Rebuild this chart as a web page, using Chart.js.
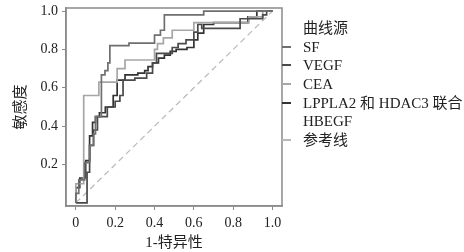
<!DOCTYPE html>
<html><head><meta charset="utf-8">
<script src="https://cdn.jsdelivr.net/npm/chart.js@4"></script>
<style>
html,body{margin:0;padding:0;background:#fff;}
#wrap{position:relative;width:464px;height:252px;}
#legend{position:absolute;left:0;top:0;width:464px;height:252px;pointer-events:none;
 font-family:"Liberation Serif","Noto Sans CJK SC",serif;font-size:15px;color:#222;}
.lt{position:absolute;left:303px;line-height:16px;white-space:nowrap;}
.lm{position:absolute;left:282px;width:9px;height:2px;}
</style></head>
<body><div id="wrap"><canvas id="c" width="464" height="252"></canvas><div id="legend"></div></div>
<script>
// ---- data (ROC corner points: 1-特异性 / 敏感度) ----
const seriesNames = ["SF", "VEGF", "CEA", "LPPLA2 和 HDAC3 联合 HBEGF"];
const xTicks = [0, 0.2, 0.4, 0.6, 0.8, 1.0];
const yTicks = [0.2, 0.4, 0.6, 0.8, 1.0];

const sfX = [0,0,0.015,0.015,0.045,0.045,0.07,0.07,0.09,0.09,0.1,0.1,0.13,0.13,0.148,0.148,0.163,0.163,0.173,0.173,0.27,0.27,0.4,0.4,0.43,0.43,0.45,0.45,0.65,0.65,1];
const sfY = [0,0.05,0.05,0.12,0.12,0.21,0.21,0.3,0.3,0.36,0.36,0.45,0.45,0.667,0.667,0.69,0.69,0.73,0.73,0.82,0.82,0.833,0.833,0.875,0.875,0.9,0.9,0.98,0.98,1,1];

const vegfX = [0,0.057,0.057,0.07,0.07,0.09,0.09,0.11,0.11,0.16,0.16,0.2,0.2,0.224,0.224,0.24,0.24,0.3,0.3,0.36,0.36,0.39,0.39,0.41,0.41,0.49,0.49,0.52,0.52,0.56,0.56,0.6,0.6,0.62,0.62,0.64,0.64,0.68,0.68,0.835,0.835,0.95,0.95,0.97,0.97,1];
const vegfY = [0,0,0.16,0.16,0.3,0.3,0.38,0.38,0.45,0.45,0.5,0.5,0.53,0.53,0.56,0.56,0.64,0.64,0.65,0.65,0.677,0.677,0.73,0.73,0.78,0.78,0.81,0.81,0.83,0.83,0.85,0.85,0.89,0.89,0.93,0.93,0.91,0.91,0.91,0.91,0.96,0.96,0.98,0.98,1,1];

const ceaX = [0,0,0.04,0.04,0.117,0.117,0.21,0.21,0.25,0.25,0.4,0.4,0.415,0.415,0.445,0.445,0.49,0.49,0.6,0.6,0.88,0.88,0.95,0.95,1];
const ceaY = [0,0.1,0.1,0.56,0.56,0.63,0.63,0.7,0.7,0.745,0.745,0.8,0.8,0.83,0.83,0.86,0.86,0.9,0.9,0.94,0.94,0.97,0.97,1,1];

const combX = [0,0,0.02,0.02,0.05,0.05,0.07,0.07,0.085,0.085,0.1,0.1,0.12,0.12,0.15,0.15,0.19,0.19,0.21,0.21,0.25,0.25,0.315,0.315,0.35,0.35,0.367,0.367,0.39,0.39,0.42,0.42,0.45,0.45,0.48,0.48,0.51,0.51,0.565,0.565,0.6,0.6,0.62,0.62,0.65,0.65,0.7,0.7,0.875,0.875,0.92,0.92,1];
const combY = [0,0.08,0.08,0.13,0.13,0.22,0.22,0.35,0.35,0.42,0.42,0.45,0.45,0.47,0.47,0.5,0.5,0.56,0.56,0.64,0.64,0.667,0.667,0.677,0.677,0.69,0.69,0.71,0.71,0.73,0.73,0.755,0.755,0.77,0.77,0.79,0.79,0.8,0.8,0.81,0.81,0.85,0.85,0.885,0.885,0.93,0.93,0.94,0.94,0.97,0.97,1,1];

const refX = [0, 1];
const refY = [0, 1];

const colors = ["#6f6f6f", "#4a4a4a", "#a6a6a6", "#333333"];
const refColor = "#b8b8b8";

function pts(xs, ys){ return xs.map((x,i)=>({x:x, y:ys[i]})); }

const FONT = '"Liberation Serif","Noto Sans CJK SC",serif';

const framePlugin = {
  id:'frame',
  afterDraw(chart){
    const a = chart.chartArea, ctx = chart.ctx;
    ctx.save();
    ctx.strokeStyle = '#8a8a8a';
    ctx.lineWidth = 1.5;
    ctx.strokeRect(a.left, a.top, a.right - a.left, a.bottom - a.top);
    ctx.restore();
  }
};

const ds = [
  {label: seriesNames[0], data: pts(sfX, sfY), borderColor: colors[0]},
  {label: seriesNames[1], data: pts(vegfX, vegfY), borderColor: colors[1]},
  {label: seriesNames[2], data: pts(ceaX, ceaY), borderColor: colors[2]},
  {label: seriesNames[3], data: pts(combX, combY), borderColor: colors[3]},
  {label: "参考线", data: pts(refX, refY), borderColor: refColor, borderDash: [6,4], borderWidth: 1.2}
].map(d => Object.assign({borderWidth: 1.7, pointRadius: 0, fill: false, tension: 0}, d));

function noPad(s){ s.paddingTop = 0; s.paddingBottom = 0; s.paddingLeft = 0; s.paddingRight = 0; }

new Chart(document.getElementById('c'), {
  type: 'line',
  data: { datasets: ds },
  options: {
    responsive: false,
    animation: false,
    layout: { padding: { left: 0, right: 182, top: 8, bottom: 0 } },
    plugins: { legend: { display: false }, tooltip: { enabled: false } },
    scales: {
      x: {
        type: 'linear', min: -0.05, max: 1.048,
        afterBuildTicks: s => { s.ticks = xTicks.map(v => ({value: v})); },
        afterFit: s => { s.height = 46; noPad(s); },
        ticks: { color: '#222', font: { family: FONT, size: 14 }, padding: 5, maxRotation: 0,
          callback: v => v === 0 ? '0' : v.toFixed(1) },
        grid: { drawOnChartArea: false, drawTicks: true, tickLength: 4, color: '#8a8a8a' },
        border: { display: true, color: '#8a8a8a', width: 1.5 },
        title: { display: true, text: '1-特异性', color: '#222', font: { family: FONT, size: 15 }, padding: { top: 0, bottom: 0 } }
      },
      y: {
        type: 'linear', min: -0.016, max: 1.016,
        afterBuildTicks: s => { s.ticks = yTicks.map(v => ({value: v})); },
        afterFit: s => { s.width = 66; noPad(s); },
        ticks: { color: '#222', font: { family: FONT, size: 14 }, padding: 4,
          callback: v => v.toFixed(1) },
        grid: { drawOnChartArea: false, drawTicks: true, tickLength: 4, color: '#8a8a8a' },
        border: { display: true, color: '#8a8a8a', width: 1.5 },
        title: { display: true, text: '敏感度', color: '#222', font: { family: FONT, size: 15 }, padding: { top: 12, bottom: 0 } }
      }
    }
  },
  plugins: [framePlugin]
});

// ---- HTML legend ----
const leg = document.getElementById('legend');
const items = [
  {t: '曲线源', y: 28},
  {t: seriesNames[0], y: 47, c: colors[0]},
  {t: 'VEGF', y: 65, c: colors[1]},
  {t: 'CEA', y: 84, c: colors[2]},
  {t: 'LPPLA2 和 HDAC3 联合', y: 103, c: colors[3]},
  {t: 'HBEGF', y: 121},
  {t: '参考线', y: 140, c: refColor}
];
items.forEach(it => {
  const d = document.createElement('div');
  d.className = 'lt'; d.textContent = it.t; d.style.top = (it.y - 8) + 'px';
  leg.appendChild(d);
  if (it.c) {
    const m = document.createElement('div');
    m.className = 'lm'; m.style.background = it.c; m.style.top = (it.y - 1) + 'px';
    leg.appendChild(m);
  }
});
</script></body></html>
